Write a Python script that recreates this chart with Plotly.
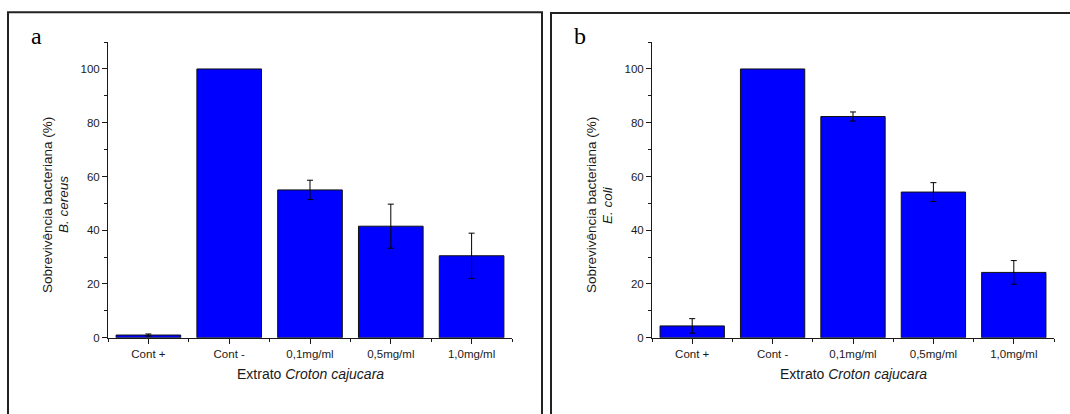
import plotly.graph_objects as go

# Treatment groups (x axis)
categories = ["Cont +", "Cont -", "0,1mg/ml", "0,5mg/ml", "1,0mg/ml"]

# Bacterial survival (%) and standard deviation
b_cereus_mean = [1.0, 100.0, 55.0, 41.5, 30.5]
b_cereus_err = [0.4, 0.0, 3.6, 8.2, 8.4]
e_coli_mean = [4.4, 100.0, 82.3, 54.2, 24.3]
e_coli_err = [2.7, 0.0, 1.7, 3.5, 4.4]

y_tickvals = [0, 20, 40, 60, 80, 100]

W, H = 1070, 414
SANS = "Liberation Sans, Arial, sans-serif"
SERIF = "Liberation Serif, Times New Roman, serif"
INK = "#1a1a1a"


def px_x(p):
    return p / W


def px_y(p):
    return 1 - p / H


positions = list(range(len(categories)))

fig = go.Figure()

panels = [
    dict(mean=b_cereus_mean, err=b_cereus_err, species="B. cereus", letter="a",
         x0=108, x1=512, xa="x", ya="y"),
    dict(mean=e_coli_mean, err=e_coli_err, species="E. coli", letter="b",
         x0=652, x1=1054, xa="x2", ya="y2"),
]

plot_top, plot_bottom = 42.7, 342.7

for i, p in enumerate(panels):
    # bars only where a deviation exists get an error bar
    has_err = [k for k, e in enumerate(p["err"]) if e]
    fig.add_trace(go.Bar(
        x=positions, y=p["mean"], width=0.8,
        marker=dict(color="#0000ff", line=dict(color="#111111", width=1)),
        xaxis=p["xa"], yaxis=p["ya"], showlegend=False,
    ))
    fig.add_trace(go.Scatter(
        x=[positions[k] for k in has_err], y=[p["mean"][k] for k in has_err],
        mode="markers", marker=dict(size=0.1, color="rgba(0,0,0,0)"),
        error_y=dict(type="data", array=[p["err"][k] for k in has_err],
                     visible=True, color="black", thickness=1, width=3),
        xaxis=p["xa"], yaxis=p["ya"], showlegend=False, hoverinfo="skip",
    ))

    sfx = "" if i == 0 else "2"
    fig.update_layout(**{
        "xaxis" + sfx: dict(
            domain=[px_x(p["x0"]), px_x(p["x1"])],
            range=[-0.5, len(categories) - 0.5],
            tickmode="array", tickvals=positions, ticktext=categories,
            ticks="outside", ticklen=5, tickwidth=1, tickcolor=INK,
            showline=True, linecolor=INK, linewidth=1,
            showgrid=False, zeroline=False,
            minor=dict(tickmode="array",
                       tickvals=[k - 0.5 for k in range(len(categories) + 1)],
                       ticks="outside", ticklen=3, tickwidth=1, tickcolor=INK,
                       showgrid=False),
            tickfont=dict(family=SANS, size=11.5, color=INK),
            anchor="y" + sfx, fixedrange=True,
        ),
        "yaxis" + sfx: dict(
            domain=[px_y(plot_bottom), px_y(plot_top)],
            range=[0, 110],
            tickmode="array", tickvals=y_tickvals,
            ticks="outside", ticklen=5, tickwidth=1, tickcolor=INK,
            showline=True, linecolor=INK, linewidth=1,
            showgrid=False, zeroline=False,
            minor=dict(dtick=10, tick0=0, ticks="outside", ticklen=3,
                       tickwidth=1, tickcolor=INK, showgrid=False),
            tickfont=dict(family=SANS, size=11.5, color=INK),
            anchor="x" + sfx, fixedrange=True,
        ),
    })

    cx = (p["x0"] + p["x1"]) / 2
    off = p["x0"] - 108
    annotations = [
        dict(x=px_x(cx), y=px_y(379), text="Extrato <i>Croton cajucara</i>",
             font=dict(family=SANS, size=14, color=INK)),
        dict(x=px_x(48 + off), y=px_y(208), text="Sobrevivência bacteriana (%)",
             textangle=-90, font=dict(family=SANS, size=13.5, color=INK)),
        dict(x=px_x(64 + off), y=px_y(208), text="<i>" + p["species"] + "</i>",
             textangle=-90, font=dict(family=SANS, size=13.5, color=INK)),
        dict(x=px_x(36 + off), y=px_y(37), text=p["letter"],
             font=dict(family=SERIF, size=24, color="black")),
    ]
    for a in annotations:
        fig.add_annotation(xref="paper", yref="paper", showarrow=False,
                           xanchor="center", yanchor="middle", **a)

# Panel frames
fig.add_shape(type="rect", xref="paper", yref="paper",
              x0=px_x(8), x1=px_x(542), y0=-0.1, y1=px_y(12.5),
              line=dict(color="#222222", width=2))
fig.add_shape(type="rect", xref="paper", yref="paper",
              x0=px_x(551), x1=1.1, y0=-0.1, y1=px_y(13.3),
              line=dict(color="#222222", width=2))

fig.update_layout(
    width=W, height=H,
    margin=dict(l=0, r=0, t=0, b=0),
    paper_bgcolor="white", plot_bgcolor="white",
    bargap=0.2,
)

fig.write_html("out.html", config={"displayModeBar": False})
